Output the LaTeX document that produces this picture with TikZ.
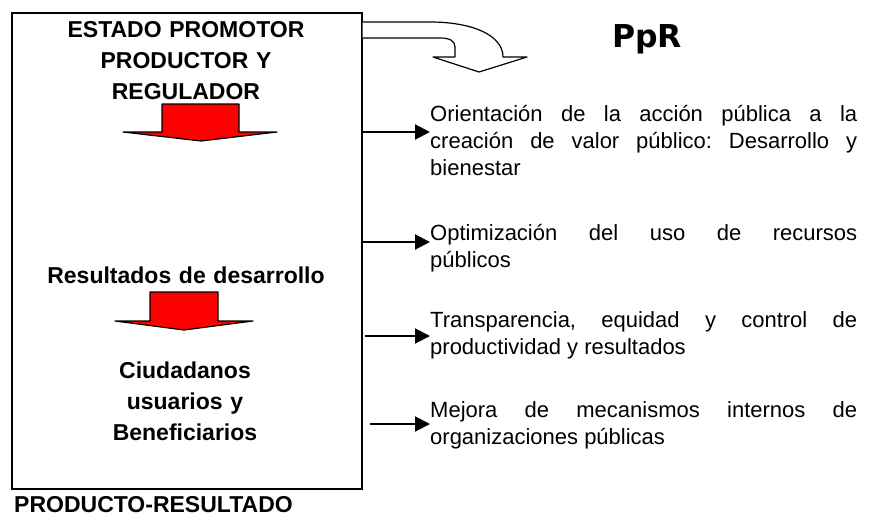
\documentclass[tikz,border=0pt]{standalone}
\usepackage{fontspec}
\setmainfont{Liberation Sans}
\newfontfamily\pprfont{DejaVu Sans}
\usetikzlibrary{arrows.meta}

\begin{document}
\begin{tikzpicture}[x=1pt,y=-1pt,
  flecha/.style={line width=2pt,-{Triangle[length=15pt,width=15pt]}},
  roja/.style={fill=red,draw=black,line width=1.2pt,line join=round},
  titulo/.style={font=\fontsize{23}{31}\selectfont\bfseries,align=center,text width=340pt,inner sep=0pt,anchor=base},
  texto/.style={font=\fontsize{22}{27}\selectfont,align=justify,text width=427pt,inner sep=0pt,anchor=base west,
    execute at begin node={\frenchspacing\tolerance=10000 \hyphenpenalty=10000 }}]
\useasboundingbox (0,0) rectangle (882,517);
\node[draw,line width=1.5pt,minimum width=350pt,minimum height=476pt,inner sep=0pt,anchor=north west] (estado) at (11,12) {};
\draw[line width=1.2pt,fill=white,line join=round] (estado.east |- 0,22) -- (430,22) .. controls (472,22) and (503,35) .. (503,57) -- (527,57) -- (479,72) -- (433,57) -- (455,57) -- (455,47) .. controls (455,41) and (450,38) .. (440,38) -- (estado.east |- 0,38);
\node[titulo] (estadotxt) at (186,37) {ESTADO PROMOTOR\\PRODUCTOR Y\\REGULADOR};
\filldraw[roja] (162,104) -- (239,104) -- (239,132) -- (277,132) -- (201,141) -- (123,132) -- (162,132) -- cycle;
\node[titulo] (resultados) at (186,283) {Resultados de desarrollo};
\filldraw[roja] (150,292) -- (218,292) -- (218,321) -- (253,321) -- (184,330) -- (115,321) -- (150,321) -- cycle;
\node[titulo] (ciudadanos) at (185,378) {Ciudadanos\\usuarios y\\Beneficiarios};
\node[font=\fontsize{23}{27}\selectfont\bfseries,inner sep=0pt,anchor=base west] (producto) at (14,512) {PRODUCTO-RESULTADO};
\node[font=\pprfont\fontsize{31.5}{36}\selectfont\bfseries,inner sep=0pt,anchor=base west] (ppr) at (612,47) {PpR};
\node[texto] (orientacion) at (430,121) {Orientación de la acción pública a la\linebreak creación de valor público: Desarrollo y\linebreak bienestar};
\node[texto] (optimizacion) at (430,240) {Optimización del uso de recursos\linebreak públicos};
\node[texto] (transparencia) at (430,327) {Transparencia, equidad y control de\linebreak productividad y resultados};
\node[texto] (mejora) at (430,417) {Mejora de mecanismos internos de\linebreak organizaciones públicas};
\coordinate (a1) at (362,132);
\coordinate (a2) at (362,242);
\coordinate (a3) at (365,336);
\coordinate (a4) at (370,424);
\draw[flecha] (a1) -- (a1 -| orientacion.west);
\draw[flecha] (a2) -- (a2 -| optimizacion.west);
\draw[flecha] (a3) -- (a3 -| transparencia.west);
\draw[flecha] (a4) -- (a4 -| mejora.west);
\end{tikzpicture}
\end{document}
